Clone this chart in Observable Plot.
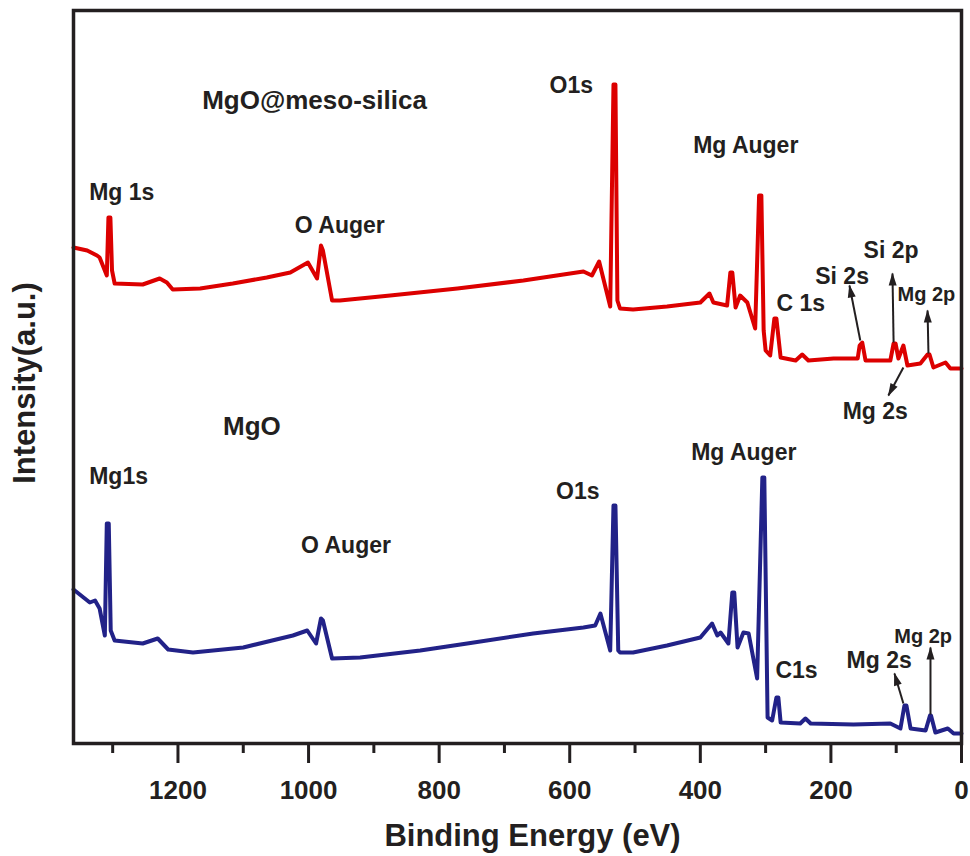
<!DOCTYPE html>
<html>
<head>
<meta charset="utf-8">
<script src="https://cdn.jsdelivr.net/npm/d3@7"></script>
<script src="https://cdn.jsdelivr.net/npm/@observablehq/plot@0.6"></script>
<style>
  body { margin: 0; background: #fff; }
  #chart svg { display: block; }
</style>
</head>
<body>
<div id="chart"></div>
<script>
// Binding energy (eV) and intensity (a.u.)
const redEV = [1360,1339,1324,1320,1309,1306.5,1303.5,1301,1297,1254,1228,1217,1208,1166,1116,1064,1028,1001,987,981,978,964,952,875,772,671,579,566,555,538,533,530,527,523,503,451,400,386,380,359,354,351,346,339,328,316,310,306.5,303,300,293,286.6,283.5,277,254,244,234.5,196,159,156,152,147,109,104,101,96.6,89,82.8,63,52,49,43,24.5,17,0];
const redI  = [496,493,488,486,468,526,526,473,460,459,465,461,454,455,460,466,471,481,465,498,493,443,443,448,455,463,472,468,482,437,659,659,443,435,434,437,441,450,441,438,471,471,436,448,441,415,548,548,413,393,388,425,425,386,383,389,383,385,385,398,401,383,383,400,400,385,398,378,380,389,389,376,381,375,375];

const blueEV = [1360,1335,1327,1320,1312,1309,1306,1303,1297,1254,1231,1215,1177,1100,1024,1002,988.5,981,978,964,921,829,757,656,579,561,553,538,533,530,525.7,523,503,451,400,382,374,369,357,351,348,343,334,326,313,305,302,297,290,283.5,280.5,277,247,239,231,165.5,109,93.5,87.4,84.3,78,55,48.3,46.7,40,21,12,0];
const blueI  = [154,141,143,135,108,220,220,113,103,100,105,94,91,96,108,113,100,125,123,85,86,93,100,110,116,118,130,93,238,238,93,91,91,98,106,120,108,111,100,151,151,96,111,110,65,266,266,26,23,46,46,21,20,25,20,19,20,15,38,38,15,13,28,28,11,15,10,10];

// Annotation labels
const labelText = ["MgO@meso-silica","Mg 1s","O Auger","O1s","Mg Auger","C 1s","Si 2s","Si 2p","Mg 2p","Mg 2s",
                   "MgO","Mg1s","O Auger","O1s","Mg Auger","C1s","Mg 2s","Mg 2p"];
const labelEV   = [1163,1336,1021,631,411,283.5,224,150,98,182,
                   1131,1336,1011.5,621,414,285,176,103];
const labelInt  = [635,544,511,651,591,433,460,486,443,325,
                   309,260,191,245,284,66,76,101];
const labelSize = [26,23,23,23,23,23,23,23,20,23,
                   26,23,23,23,23,23,23,20];

// Arrows (tail -> head)
const arrowFromEV = [155,104,50.6,89, 89,47.5];
const arrowFromI  = [403,401,390,376, 40,29];
const arrowToEV   = [171.6,105.7,52,112, 102.7,47.5];
const arrowToI    = [458,470,433,348, 70,96];

// Axis ticks
const majorTicks = [1200,1000,800,600,400,200,0];
const minorTicks = [1300,1100,900,700,500,300,100];

const W = 970, H = 856, mL = 73, mR = 9, mT = 10, mB = 113;
const xDomain = [1360, 0], yDomain = [0, 733];
const xs = Plot.scale({x: {domain: xDomain, range: [mL, W - mR]}});
const ys = Plot.scale({y: {domain: yDomain, range: [H - mB, mT]}});

const red = redEV.map((e, k) => ({ev: e, i: redI[k]}));
const blue = blueEV.map((e, k) => ({ev: e, i: blueI[k]}));
const labels = labelText.map((t, k) => ({text: t, ev: labelEV[k], int: labelInt[k], size: labelSize[k]}));
const arrows = arrowFromEV.map((e, k) => {
  const dx = xs.apply(arrowToEV[k]) - xs.apply(e);
  const dy = ys.apply(arrowToI[k]) - ys.apply(arrowFromI[k]);
  return {x1: e, y1: arrowFromI[k], x2: arrowToEV[k], y2: arrowToI[k], angle: Math.atan2(dx, -dy) * 180 / Math.PI};
});

// narrow filled arrowhead, tip at the anchor point, pointing up before rotation
const arrowHead = {
  draw(context) {
    context.moveTo(0, -1);
    context.lineTo(4, 12);
    context.lineTo(-4, 12);
    context.closePath();
  }
};

const ink = "#231f20";
const font = "'Liberation Sans', Arial, Helvetica, sans-serif";

const chart = Plot.plot({
  width: W,
  height: H,
  marginLeft: mL,
  marginRight: mR,
  marginTop: mT,
  marginBottom: mB,
  style: {fontFamily: font, color: ink, background: "#fff"},
  x: {domain: xDomain, axis: null},
  y: {domain: yDomain, axis: null},
  marks: [
    Plot.line(red, {x: "ev", y: "i", stroke: "#dc0000", strokeWidth: 4, strokeLinejoin: "round"}),
    Plot.line(blue, {x: "ev", y: "i", stroke: "#222288", strokeWidth: 4, strokeLinejoin: "round"}),
    Plot.link(arrows, {x1: "x1", y1: "y1", x2: "x2", y2: "y2", stroke: ink, strokeWidth: 2}),
    Plot.dot(arrows, {x: "x2", y: "y2", rotate: "angle", symbol: arrowHead, r: 4, fill: ink, stroke: "none"}),
    Plot.text(labels, {x: "ev", y: "int", text: "text", fontSize: "size", fontWeight: "bold", fill: ink,
      textAnchor: "start", lineAnchor: "bottom"}),
    Plot.axisX(majorTicks, {anchor: "bottom", tickSize: 20, tickPadding: 17, strokeWidth: 3, fontSize: 26, fontWeight: "bold",
      tickFormat: d => String(d), label: null}),
    Plot.axisX(minorTicks, {anchor: "bottom", tickSize: 10, strokeWidth: 3, tickFormat: () => "", label: null}),
    Plot.frame({stroke: ink, strokeWidth: 3.5}),
    Plot.text(["Binding Energy (eV)"], {frameAnchor: "bottom", dx: 15, dy: 102, textAnchor: "middle", lineAnchor: "bottom",
      fontSize: 31, fontWeight: "bold", fill: ink}),
    Plot.text(["Intensity(a.u.)"], {frameAnchor: "left", dx: -39, dy: 6, rotate: -90, textAnchor: "middle", lineAnchor: "bottom",
      fontSize: 31, fontWeight: "bold", fill: ink, ariaLabel: "ylabel"})
  ]
});
document.getElementById("chart").appendChild(chart);
d3.select(chart).selectAll('g[aria-label="ylabel"] text').style("letter-spacing", "2.4px");
</script>
</body>
</html>
